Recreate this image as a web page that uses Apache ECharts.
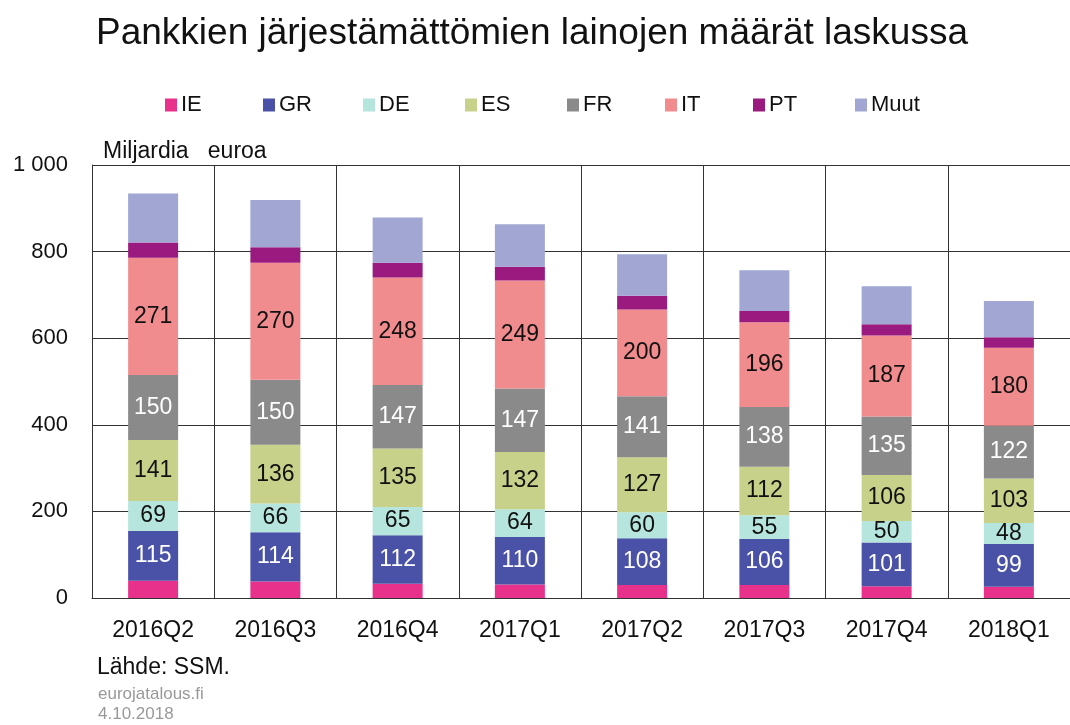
<!DOCTYPE html>
<html>
<head>
    <meta charset="utf-8">
    <title>Järjestämättömät lainat</title>
    <script src="https://cdn.jsdelivr.net/npm/echarts@6/dist/echarts.min.js"></script>
    <style>
        body { margin: 0; background: #fff; }
    </style>
</head>
<body>
<div id="main" style="width: 1070px;height:725px"></div>
<script type="text/javascript">
    // kvartaalit ja maat
    var quarters = ['2016Q2', '2016Q3', '2016Q4', '2017Q1', '2017Q2', '2017Q3', '2017Q4', '2018Q1'];
    var countries = ['IE', 'GR', 'DE', 'ES', 'FR', 'IT', 'PT', 'Muut'];

    // miljardia euroa (IE, PT ja Muut luettu kuvasta)
    var IE = [40, 38, 33, 31, 30, 30, 27, 26];
    var GR = [115, 114, 112, 110, 108, 106, 101, 99];
    var DE = [69, 66, 65, 64, 60, 55, 50, 48];
    var ES = [141, 136, 135, 132, 127, 112, 106, 103];
    var FR = [150, 150, 147, 147, 141, 138, 135, 122];
    var IT = [271, 270, 248, 249, 200, 196, 187, 180];
    var PT = [35, 36, 34, 32, 32, 26, 26, 24];
    var Muut = [113, 109, 105, 98, 96, 94, 88, 84];

    var yTicks = [0, 200, 400, 600, 800, 1000];

    var colors = ['#e8318a', '#4a52a8', '#b5e5dc', '#c7d18a', '#8a8a8a', '#f08c8e', '#9b1a7f', '#a1a6d3'];
    var dataByCountry = [IE, GR, DE, ES, FR, IT, PT, Muut];
    var labelled = { GR: '#ffffff', DE: '#111', ES: '#111', FR: '#ffffff', IT: '#111' };
    // legendan kohdat vaakasuunnassa
    var legendLeft = [160, 258, 358, 460, 562, 660, 748, 850];

    var myChart = echarts.init(document.getElementById('main'));
    var font = '"Liberation Sans", Arial, sans-serif';

    var series = countries.map(function (name, i) {
        var lc = labelled[name];
        return {
            name: name,
            type: 'bar',
            stack: 'total',
            barWidth: 50,
            data: dataByCountry[i],
            itemStyle: { color: colors[i] },
            label: {
                show: !!lc,
                position: 'inside',
                color: lc || '#111',
                fontSize: 23,
                fontFamily: font
            }
        };
    });

    var legends = countries.map(function (name, i) {
        return {
            top: 89,
            left: legendLeft[i],
            itemWidth: 12,
            itemHeight: 13,
            itemGap: 0,
            icon: 'rect',
            data: [name],
            textStyle: { fontSize: 22, color: '#111', padding: [0, 0, 0, -1] }
        };
    });

    var option = {
        animation: false,
        textStyle: { fontFamily: font },
        title: {
            text: 'Pankkien järjestämättömien lainojen määrät laskussa',
            left: 91,
            top: 10,
            textStyle: { fontSize: 37, fontWeight: 'normal', color: '#111', fontFamily: font }
        },
        legend: legends,
        grid: {
            left: 92,
            top: 165,
            width: 988,
            height: 433
        },
        xAxis: {
            type: 'category',
            data: quarters,
            axisTick: { show: false },
            axisLine: { lineStyle: { color: '#333', width: 1 } },
            axisLabel: { fontSize: 23, color: '#111', margin: 21 },
            splitLine: { show: true, lineStyle: { color: '#333', width: 1 } }
        },
        yAxis: {
            type: 'value',
            min: yTicks[0],
            max: yTicks[yTicks.length - 1],
            interval: 200,
            axisLine: { show: true, lineStyle: { color: '#333' } },
            axisTick: { show: false },
            splitLine: { lineStyle: { color: '#333', width: 1 } },
            axisLabel: {
                fontSize: 22,
                color: '#111',
                margin: 24,
                formatter: function (v) {
                    return v >= 1000 ? '1 000' : String(v);
                }
            }
        },
        graphic: [
            { type: 'text', left: 103, top: 140, style: { text: 'Miljardia   euroa', fill: '#111', font: '23px ' + font } },
            { type: 'text', left: 97, top: 656, style: { text: 'Lähde: SSM.', fill: '#111', font: '23px ' + font } },
            { type: 'text', left: 98, top: 686, style: { text: 'eurojatalous.fi', fill: '#999', font: '17px ' + font } },
            { type: 'text', left: 98, top: 706, style: { text: '4.10.2018', fill: '#999', font: '17px ' + font } }
        ],
        series: series
    };

    myChart.setOption(option);
</script>
</body>
</html>
